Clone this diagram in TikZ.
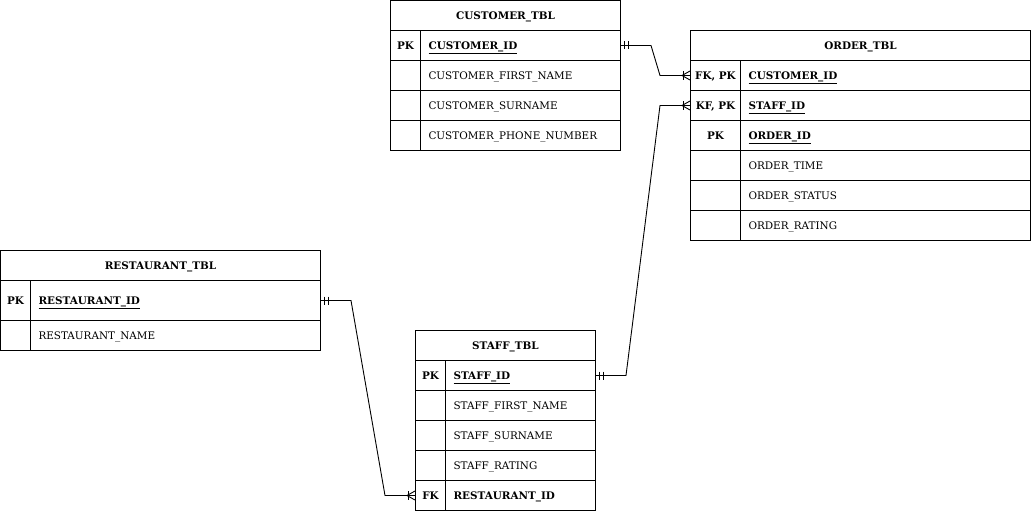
\documentclass[tikz,border=0pt]{standalone}
\usepackage{fontspec}
\setmainfont{DejaVu Serif}
\usetikzlibrary{calc}
\begin{document}
\begin{tikzpicture}[x=1pt,y=1pt,
  cell/.style={draw=black, line width=1pt, anchor=north west, inner sep=0pt, minimum height=30pt, text height=9.5pt, text depth=2pt, font=\fontsize{10.4}{12}\selectfont},
  hdr/.style={cell, font=\fontsize{10.4}{12}\selectfont\bfseries},
  keyc/.style={cell, font=\fontsize{10.4}{12}\selectfont\bfseries},
  fld/.style={cell, align=left, inner xsep=8pt},
  fldb/.style={fld, font=\fontsize{10.4}{12}\selectfont\bfseries},
  conn/.style={line width=0.9pt, black}
]
\useasboundingbox (0,0) rectangle (1031,-511);
\fill[white] (0,0) rectangle (1031,-511);

% CUSTOMER_TBL
\node[hdr, minimum width=230pt] (cust) at (390,0) {CUSTOMER\_TBL};
\node[keyc, minimum width=30pt] (custk1) at (390,-30) {PK};
\node[fldb, text width=184pt] (cust1) at (420,-30) {\underline{CUSTOMER\_ID}};
\node[cell, minimum width=30pt] (custk2) at (390,-60) {};
\node[fld, text width=184pt] (cust2) at (420,-60) {CUSTOMER\_FIRST\_NAME};
\node[cell, minimum width=30pt] (custk3) at (390,-90) {};
\node[fld, text width=184pt] (cust3) at (420,-90) {CUSTOMER\_SURNAME};
\node[cell, minimum width=30pt] (custk4) at (390,-120) {};
\node[fld, text width=184pt] (cust4) at (420,-120) {CUSTOMER\_PHONE\_NUMBER};

% ORDER_TBL
\node[hdr, minimum width=340pt] (ord) at (690,-30) {ORDER\_TBL};
\node[keyc, minimum width=50pt] (ordk1) at (690,-60) {FK, PK};
\node[fldb, text width=274pt] (ord1) at (740,-60) {\underline{CUSTOMER\_ID}};
\node[keyc, minimum width=50pt] (ordk2) at (690,-90) {KF, PK};
\node[fldb, text width=274pt] (ord2) at (740,-90) {\underline{STAFF\_ID}};
\node[keyc, minimum width=50pt] (ordk3) at (690,-120) {PK};
\node[fldb, text width=274pt] (ord3) at (740,-120) {\underline{ORDER\_ID}};
\node[cell, minimum width=50pt] (ordk4) at (690,-150) {};
\node[fld, text width=274pt] (ord4) at (740,-150) {ORDER\_TIME};
\node[cell, minimum width=50pt] (ordk5) at (690,-180) {};
\node[fld, text width=274pt] (ord5) at (740,-180) {ORDER\_STATUS};
\node[cell, minimum width=50pt] (ordk6) at (690,-210) {};
\node[fld, text width=274pt] (ord6) at (740,-210) {ORDER\_RATING};

% RESTAURANT_TBL
\node[hdr, minimum width=320pt] (rest) at (0,-250) {RESTAURANT\_TBL};
\node[keyc, minimum width=30pt, minimum height=40pt] (restk1) at (0,-280) {PK};
\node[fldb, text width=274pt, minimum height=40pt] (rest1) at (30,-280) {\underline{RESTAURANT\_ID}};
\node[cell, minimum width=30pt] (restk2) at (0,-320) {};
\node[fld, text width=274pt] (rest2) at (30,-320) {RESTAURANT\_NAME};

% STAFF_TBL
\node[hdr, minimum width=180pt] (staff) at (415,-330) {STAFF\_TBL};
\node[keyc, minimum width=30pt] (staffk1) at (415,-360) {PK};
\node[fldb, text width=134pt] (staff1) at (445,-360) {\underline{STAFF\_ID}};
\node[cell, minimum width=30pt] (staffk2) at (415,-390) {};
\node[fld, text width=134pt] (staff2) at (445,-390) {STAFF\_FIRST\_NAME};
\node[cell, minimum width=30pt] (staffk3) at (415,-420) {};
\node[fld, text width=134pt] (staff3) at (445,-420) {STAFF\_SURNAME};
\node[cell, minimum width=30pt] (staffk4) at (415,-450) {};
\node[fld, text width=134pt] (staff4) at (445,-450) {STAFF\_RATING};
\node[keyc, minimum width=30pt] (staffk5) at (415,-480) {FK};
\node[fldb, text width=134pt] (staff5) at (445,-480) {RESTAURANT\_ID};

% connectors
\draw[conn] (cust1.east) -- ++(30,0) -- ($(ordk1.west)+(-30,0)$) -- (ordk1.west);
\draw[conn] (staff1.east) -- ++(30,0) -- ($(ordk2.west)+(-30,0)$) -- (ordk2.west);
\draw[conn] (rest1.east) -- ++(30,0) -- ($(staffk5.west)+(-30,0)$) -- (staffk5.west);

% mandatory one marks
\foreach \n in {cust1, staff1, rest1} {
  \draw[conn] ($(\n.east)+(3,4)$) -- ++(0,-8);
  \draw[conn] ($(\n.east)+(7,4)$) -- ++(0,-8);
}
% one-or-many marks
\foreach \n in {ordk1, ordk2, staffk5} {
  \draw[conn] ($(\n.west)+(-7,4.5)$) -- ++(0,-9);
  \draw[conn] ($(\n.west)+(-8,0)$) -- ($(\n.west)+(0,4.5)$);
  \draw[conn] ($(\n.west)+(-8,0)$) -- ($(\n.west)+(0,-4.5)$);
}
\end{tikzpicture}
\end{document}
